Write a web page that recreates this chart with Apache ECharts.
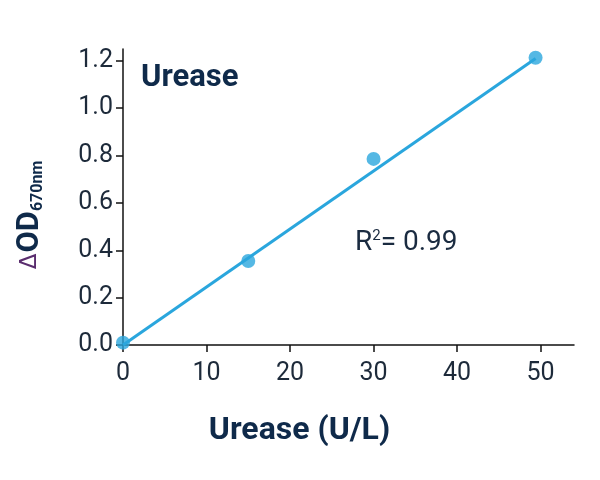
<!DOCTYPE html>
<html><head><meta charset="utf-8">
<script src="https://cdn.jsdelivr.net/npm/echarts@6/dist/echarts.min.js"></script>
<style>html,body{margin:0;padding:0;background:#fff}#c{width:600px;height:480px}</style>
</head><body><div id="c"></div>
<script>
var xValues = [0, 15, 30, 49.4];
var yValues = [0.01, 0.355, 0.786, 1.213];
var fitX = [0, 49.4];
var fitY = [0.0, 1.21];
var xTicks = [0, 10, 20, 30, 40, 50];
var yTicks = [0.0, 0.2, 0.4, 0.6, 0.8, 1.0, 1.2];

var navy = '#0f2a4a';
var blue = '#2aa6dd';
var chart = echarts.init(document.getElementById('c'));
chart.setOption({
  animation: false,
  grid: {left: 123, right: 26, top: 49, bottom: 135},
  title: {text: 'Urease', left: 136, top: 58,
    textStyle: {fontFamily: 'Roboto', fontWeight: 'bold', fontSize: 31, color: navy}},
  xAxis: {type: 'value', min: 0, max: 54, interval: 10,
    name: 'Urease (U/L)', nameLocation: 'middle', nameGap: 70,
    nameTextStyle: {fontFamily: 'Roboto', fontWeight: 'bold', fontSize: 32, color: navy, padding: [0, 98, 0, 0]},
    axisLine: {show: true, onZero: false, lineStyle: {color: '#111', width: 1.5}},
    axisTick: {show: true, length: 7, lineStyle: {color: '#111', width: 1.5}},
    axisLabel: {fontFamily: 'Roboto', fontSize: 25, color: '#1d2a3a', margin: 16,
      showMaxLabel: false,
      formatter: function(v){ return xTicks.indexOf(v) >= 0 ? String(v) : ''; }},
    splitLine: {show: false}},
  yAxis: {type: 'value', min: 0, max: 1.25, interval: 0.2,
    name: '{d|\u0394}{o|OD}{s|670nm}', nameLocation: 'middle', nameGap: 77, nameRotate: 90,
    nameTextStyle: {padding: [0, 36, 0, 0], rich: {
      d: {fontFamily: 'DejaVu Sans', fontSize: 23, color: '#5a2d6e', verticalAlign: 'middle', padding: [0, 1, 0, 0]},
      o: {fontFamily: 'Roboto', fontSize: 31, color: navy, fontWeight: 'bold'},
      s: {fontFamily: 'Roboto', fontSize: 16, color: navy, fontWeight: 'bold', padding: [14, 0, 0, 0]}
    }},
    axisLine: {show: true, lineStyle: {color: '#111', width: 1.5}},
    axisTick: {show: true, length: 7, lineStyle: {color: '#111', width: 1.5}},
    axisLabel: {fontFamily: 'Roboto', fontSize: 25, color: '#1d2a3a', margin: 10,
      formatter: function(v){ return v.toFixed(1); }},
    splitLine: {show: false}},
  series: [
    {type: 'line', data: fitX.map(function(x, i){ return [x, fitY[i]]; }),
      symbol: 'none', lineStyle: {color: blue, width: 3}, z: 2},
    {type: 'scatter', data: xValues.map(function(x, i){ return [x, yValues[i]]; }),
      symbolSize: 14, itemStyle: {color: blue}, z: 3}
  ],
  graphic: [{type: 'text', left: 355, top: 229,
    style: {text: '{r|R}{s|2}{r|= 0.99}', rich: {
      r: {fontFamily: 'Roboto', fontSize: 28, fill: '#1a2b40'},
      s: {fontFamily: 'Roboto', fontSize: 15, lineHeight: 15, fill: '#1a2b40', verticalAlign: 'top'}
    }}}]
});
</script></body></html>
